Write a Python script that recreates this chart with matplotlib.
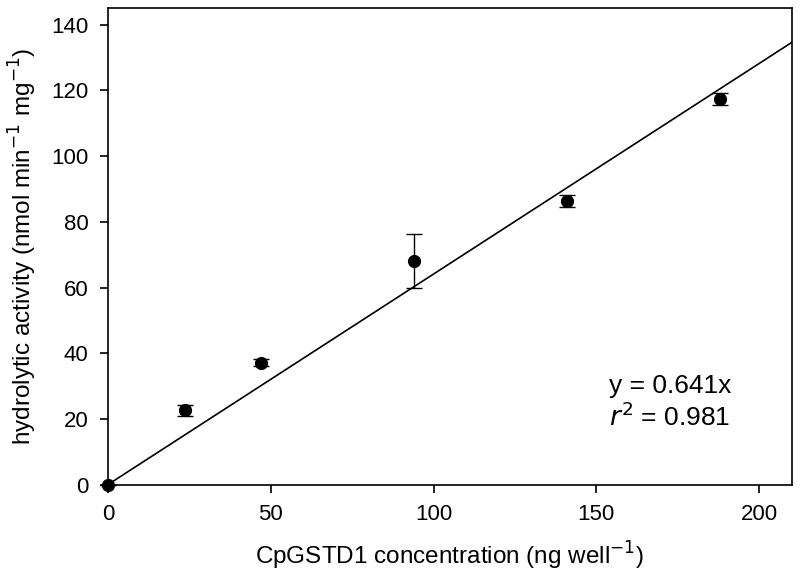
import matplotlib
matplotlib.use("Agg")
import matplotlib.pyplot as plt
import numpy as np

plt.rcParams['font.family'] = ['Liberation Sans', 'DejaVu Sans']

# data
conc = [0, 23.5, 47, 94, 141, 188]
activity = [0, 22.6, 37.1, 68.2, 86.4, 117.4]
err = [0, 1.7, 1.0, 8.2, 1.8, 1.8]
slope = 0.641
r2 = 0.981

fig = plt.figure(figsize=(8, 5.82), dpi=100)
ax = fig.add_axes([0.135, 0.1674, 0.8546, 0.8183])

xline = np.array([0, 210])
ax.plot(xline, slope * xline, color='black', lw=1.2)
ax.errorbar(conc, activity, yerr=err, fmt='o', color='black', ms=8.5,
            capsize=6, elinewidth=1, capthick=1, clip_on=False, zorder=3)

ax.set_xlim(0, 210)
ax.set_ylim(0, 145)
ax.set_xticks([0, 50, 100, 150, 200])
ax.set_yticks(range(0, 141, 20))
ax.tick_params(direction='out', length=6, width=1.2, labelsize=16, pad=8)
for s in ax.spines.values():
    s.set_linewidth(1.2)

ax.set_xlabel('CpGSTD1 concentration (ng well$^{-1}$)', fontsize=17.5, labelpad=11)
ax.set_ylabel('hydrolytic activity (nmol min$^{-1}$ mg$^{-1}$)', fontsize=17.5, labelpad=9)

ax.text(154, 27.9, 'y = %.3fx' % slope, fontsize=19)
ax.text(154, 17.8, '$r^2$ = %.3f' % r2, fontsize=19)

fig.savefig('out.png', dpi=100)
